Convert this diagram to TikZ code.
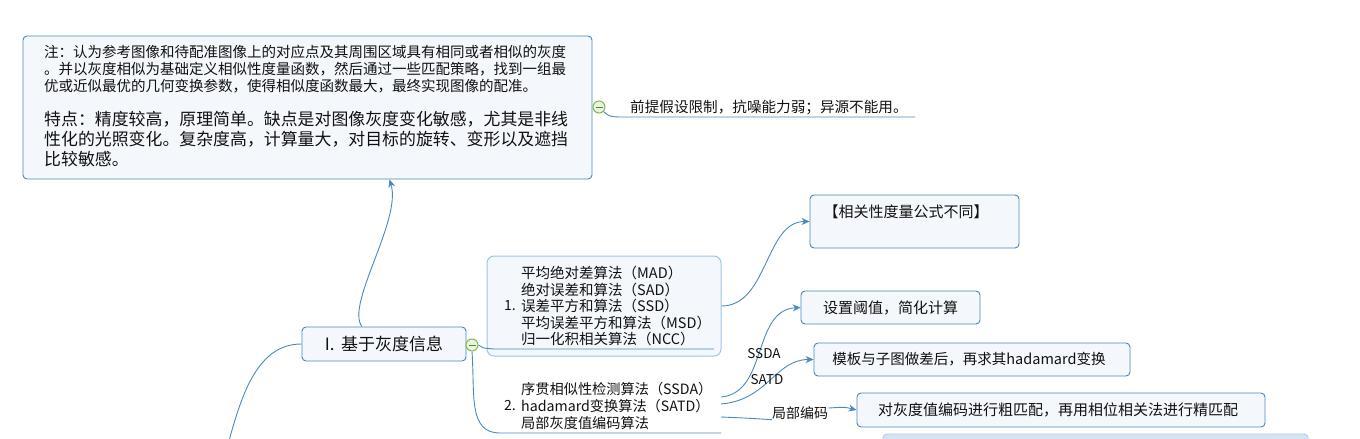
\documentclass[tikz,border=0pt]{standalone}
\usepackage{fontspec}
\setmainfont{Noto Sans CJK SC}
\usetikzlibrary{arrows.meta}
\definecolor{edgec}{HTML}{4A89BF}
\definecolor{boxc}{HTML}{4B87B6}
\definecolor{boxf}{HTML}{F4F8FC}
\definecolor{lboxc}{HTML}{9CC6E6}
\definecolor{cutf}{HTML}{D3E5F5}
\definecolor{cutc}{HTML}{A9CDEB}
\definecolor{greenc}{HTML}{7DBB4C}
\definecolor{greenf}{HTML}{EAF5E0}
\definecolor{greend}{HTML}{4C8A2A}
\definecolor{textc}{HTML}{111111}
\begin{document}
\begin{tikzpicture}[x=1pt,y=-1pt,
  box/.style={draw=boxc, fill=boxf, rounded corners=4pt, line width=0.9pt, inner sep=0pt},
  lbox/.style={draw=lboxc, fill=boxf, rounded corners=7pt, line width=1pt, inner sep=0pt},
  conn/.style={draw=edgec, line width=0.9pt},
  arr/.style={conn, -{Stealth[length=8pt,width=7pt]}},
  txt/.style={anchor=west, inner sep=0pt, text=textc},
  minus/.style={circle, draw=greenc, fill=greenf, minimum size=12pt, inner sep=0pt, line width=1pt}]
\useasboundingbox (0,0) rectangle (1360,439);
\begin{scope}
\clip (0,0) rectangle (1360,439);
% boxes
\node[box, minimum width=569pt, minimum height=143pt] (note) at (307.5,107.5) {};
\node[box, minimum width=164pt, minimum height=34pt] (main) at (384,344) {};
\node[lbox, minimum width=234pt, minimum height=100pt] (g1) at (604,306) {};
\node[box, minimum width=209pt, minimum height=53pt] (r1) at (914.5,221.5) {};
\node[box, minimum width=179pt, minimum height=33pt] (r2) at (890.5,307.5) {};
\node[box, minimum width=316pt, minimum height=33pt] (r3) at (972,359.5) {};
\node[box, minimum width=408pt, minimum height=34pt] (r4) at (1061,410) {};
\node[draw=cutc, fill=cutf, rounded corners=4pt, line width=0.9pt, minimum width=425pt, minimum height=26pt] (cut) at (1095.5,447) {};

% note text
\begin{scope}[every node/.style={txt}]
\node (p1a) at (44,52) {\fontsize{14.5}{17}\selectfont 注：认为参考图像和待配准图像上的对应点及其周围区域具有相同或者相似的灰度};
\node (p1b) at (44,69) {\fontsize{14.5}{17}\selectfont 。并以灰度相似为基础定义相似性度量函数，然后通过一些匹配策略，找到一组最};
\node (p1c) at (44,86) {\fontsize{14.5}{17}\selectfont 优或近似最优的几何变换参数，使得相似度函数最大，最终实现图像的配准。};
\node (p2a) at (44,119) {\fontsize{16.9}{20}\selectfont 特点：精度较高，原理简单。缺点是对图像灰度变化敏感，尤其是非线};
\node (p2b) at (44,139) {\fontsize{16.9}{20}\selectfont 性化的光照变化。复杂度高，计算量大，对目标的旋转、变形以及遮挡};
\node (p2c) at (44,159) {\fontsize{16.9}{20}\selectfont 比较敏感。};
\node (n1) at (630,107) {\fontsize{14.6}{17}\selectfont 前提假设限制，抗噪能力弱；异源不能用。};
\end{scope}

% main text
\node[inner sep=0pt, text=textc] (maint) at (384,344) {\fontsize{17}{20}\selectfont I.\, 基于灰度信息};

% group 1
\begin{scope}[every node/.style={txt}]
\node (g1n) at (504,306) {\fontsize{14}{16}\selectfont 1.};
\node (g1a) at (521,273) {\fontsize{14.5}{16}\selectfont 平均绝对差算法（MAD）};
\node (g1b) at (521,290) {\fontsize{14.5}{16}\selectfont 绝对误差和算法（SAD）};
\node (g1c) at (521,306) {\fontsize{14.5}{16}\selectfont 误差平方和算法（SSD）};
\node (g1d) at (521,323) {\fontsize{14.5}{16}\selectfont 平均误差平方和算法（MSD）};
\node (g1e) at (521,339) {\fontsize{14.5}{16}\selectfont 归一化积相关算法（NCC）};
% group 2
\node (g2n) at (504,406) {\fontsize{14}{16}\selectfont 2.};
\node (g2a) at (521,389) {\fontsize{14.2}{16}\selectfont 序贯相似性检测算法（SSDA）};
\node (g2b) at (521,406) {\fontsize{14.2}{16}\selectfont hadamard变换算法（SATD）};
\node (g2c) at (521,423) {\fontsize{14.2}{16}\selectfont 局部灰度值编码算法};
\end{scope}

% right box texts
\node[inner sep=0pt, text=textc] (r1t) at (906,212) {\fontsize{15}{18}\selectfont 【相关性度量公式不同】};
\node[inner sep=0pt, text=textc] (r2t) at (890.5,307.5) {\fontsize{15}{18}\selectfont 设置阈值，简化计算};
\node[inner sep=0pt, text=textc] (r3t) at (969,359.5) {\fontsize{14.5}{18}\selectfont 模板与子图做差后，再求其hadamard变换};
\node[inner sep=0pt, text=textc] (r4t) at (1058,410) {\fontsize{15}{18}\selectfont 对灰度值编码进行粗匹配，再用相位相关法进行精匹配};

% minus circles
\node[minus] (c1) at (599,107) {};
\draw[greend, line width=1pt] ([xshift=-3.5pt]c1.center) -- ([xshift=3.5pt]c1.center);
\node[minus] (c2) at (472,345) {};
\draw[greend, line width=1pt] ([xshift=-3.5pt]c2.center) -- ([xshift=3.5pt]c2.center);

% coordinates
\coordinate (n1end) at (915,117);
\coordinate (lin) at (226,452);
\coordinate (g1u) at (714,349);
\coordinate (g2u) at (721,433);
\coordinate (g2oa) at (721,397);
\coordinate (g2ob) at (721,404);
\coordinate (g2oc) at (721,417);

% connectors
\draw[conn] (c1.south east) .. controls (610,117) .. (626,117) -- (n1end);
\draw[arr] ([xshift=-22pt]main.north) .. controls (345,305) and (402,220) .. ([xshift=82pt]note.south);
\draw[conn] (main.west) .. controls (255,344) and (240,400) .. (lin);
\draw[conn] (c2.east) .. controls (482,348) .. (494,349) -- (g1u);
\draw[conn] (c2.south) .. controls (475,395) and (468,433) .. (500,433) -- (g2u);
\draw[arr] (g1.east) .. controls (768,306) and (765,221.5) .. (r1.west);

\draw[arr] (g2oa) .. controls (768,393) and (752,310) .. (r2.west);
\node[inner sep=0pt, text=textc] (l1) at (764,354) {\fontsize{13.5}{14}\selectfont SSDA};
\draw[arr] (g2ob) .. controls (768,400) and (775,359.5) .. (r3.west);
\node[inner sep=0pt, text=textc] (l2) at (767,380) {\fontsize{13.5}{14}\selectfont SATD};
\node[txt] (l3) at (772,413) {\fontsize{14}{16}\selectfont 局部编码};
\draw[conn] (g2oc) .. controls (745,418) .. (l3.south west);
\draw[arr] ([yshift=5pt]l3.east) .. controls (845,407) .. (r4.west);
\end{scope}
\end{tikzpicture}
\end{document}
